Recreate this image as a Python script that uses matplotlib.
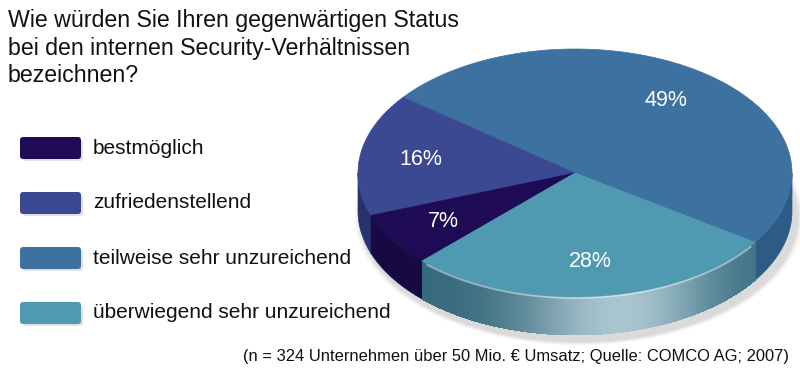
import numpy as np
import matplotlib.pyplot as plt
from matplotlib.colors import to_rgb
from matplotlib.patches import Polygon, FancyBboxPatch, Ellipse

plt.rcParams['font.family'] = ['Liberation Sans', 'DejaVu Sans']

# data
labels = ['bestmöglich', 'zufriedenstellend', 'teilweise sehr unzureichend',
          'überwiegend sehr unzureichend']
values = [7, 16, 49, 28]
top_colors = ['#1f0a55', '#3b4993', '#3d72a0', '#4f99b1']
side_colors = ['#170a42', '#29336b', '#2d5b84', '#35697c']
title = 'Wie würden Sie Ihren gegenwärtigen Status\nbei den internen Security-Verhältnissen\nbezeichnen?'
note = '(n = 324 Unternehmen über 50 Mio. € Umsatz; Quelle: COMCO AG; 2007)'

# pie drawing order (counter-clockwise from start angle)
pie_order = [2, 1, 0, 3]
start_angle = -34.0

fig = plt.figure(figsize=(8, 3.7), dpi=100)
ax = fig.add_axes([0, 0, 1, 1])
ax.set_xlim(0, 800)
ax.set_ylim(370, 0)
ax.axis('off')

cx, cy, a, b, depth = 575, 173, 217, 124, 38


def ell(th):
    t = np.radians(th)
    return cx + a * np.cos(t), cy - b * np.sin(t)


# soft shadow under the pie
for k, al in [(14, 0.04), (9, 0.05), (5, 0.06)]:
    ax.add_patch(Ellipse((cx + 4, cy + depth + 6), 2 * a + k, 2 * b + k * 0.6,
                         color='#000000', alpha=al, lw=0, zorder=0))

# angles
angles = []
th = start_angle
for i in pie_order:
    span = values[i] / sum(values) * 360
    angles.append((i, th, th + span))
    th += span

# side faces
for i, t1, t2 in angles:
    for off in (0, 360):
        lo = max(t1 + off, 180)
        hi = min(t2 + off, 360)
        if hi <= lo:
            continue
        base = np.array(to_rgb(side_colors[i]))
        if i != 3:
            ts = np.linspace(lo, hi, 100)
            xs, ys = ell(ts)
            pts = list(zip(xs, ys)) + list(zip(xs[::-1], ys[::-1] + depth))
            ax.add_patch(Polygon(pts, closed=True, facecolor=base, edgecolor=base,
                                 lw=0.5, zorder=2))
            continue
        # gradient side of the front slice
        steps = np.linspace(lo, hi, int((hi - lo) * 3) + 2)
        for s1, s2 in zip(steps[:-1], steps[1:]):
            x1, y1 = ell(s1)
            x2, y2 = ell(s2 + 0.4)
            m = 0.5 * (s1 + s2)
            f = np.exp(-((m - 282) / 26) ** 2)
            g = np.clip((m - 282) / 45, 0, 1) * 0.15
            col = base * (1 - f - g) + np.array([0.66, 0.77, 0.81]) * f \
                + np.array([0.36, 0.60, 0.68]) * g
            ax.add_patch(Polygon([(x1, y1), (x2, y2), (x2, y2 + depth), (x1, y1 + depth)],
                                 closed=True, facecolor=col, lw=0, antialiased=False,
                                 zorder=2))

# top faces
for i, t1, t2 in angles:
    ts = np.linspace(t1, t2, 200)
    xs, ys = ell(ts)
    pts = [(cx, cy)] + list(zip(xs, ys))
    ax.add_patch(Polygon(pts, closed=True, facecolor=top_colors[i],
                         edgecolor=top_colors[i], lw=0.5, zorder=3))
    mid = np.radians((t1 + t2) / 2)
    lx = cx + 0.72 * a * np.cos(mid)
    ly = cy - 0.72 * b * np.sin(mid)
    ax.text(lx, ly, f'{values[i]}%', color='white', fontsize=15.5,
            ha='center', va='center', zorder=5)

# rim highlight on the front edge
ts = np.linspace(angles[3][1] + 2, angles[3][2] - 2, 100)
xs, ys = ell(ts)
ax.plot(xs, ys + 1, color='white', lw=1.3, alpha=0.45, zorder=4)

# title
ax.text(8, 9, title, fontsize=16.7, va='top', ha='left', color='#111111',
        linespacing=1.26)

# legend
for k, lab in enumerate(labels):
    y0 = 137 + k * 55
    ax.add_patch(FancyBboxPatch((23, y0 + 3), 60, 21, boxstyle='round,pad=0,rounding_size=3',
                                facecolor='#000000', alpha=0.12, lw=0, zorder=1))
    ax.add_patch(FancyBboxPatch((20, y0), 61, 22, boxstyle='round,pad=0,rounding_size=3',
                                facecolor=top_colors[k], lw=0, zorder=2))
    ax.text(93, y0 + 11, lab, fontsize=15.0, va='center', ha='left', color='#111111')

ax.text(789, 356, note, fontsize=11.9, ha='right', va='center', color='#111111')

fig.savefig('out.png', dpi=100)
